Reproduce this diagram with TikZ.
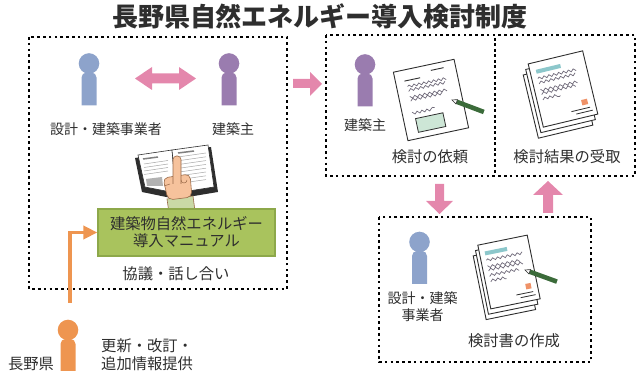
\documentclass[tikz,border=0pt]{standalone}
\usepackage{fontspec}
\newfontfamily\jp{Noto Sans CJK JP}
\usetikzlibrary{arrows.meta,decorations.pathmorphing}

\definecolor{bluep}{HTML}{8DA3CB}
\definecolor{purplep}{HTML}{9A7CAF}
\definecolor{orangep}{HTML}{EE9550}
\definecolor{pinkar}{HTML}{E487AC}
\definecolor{manualgreen}{HTML}{A9C35D}
\definecolor{manualedge}{HTML}{8DA84A}
\definecolor{ink}{HTML}{2E2E2E}
\definecolor{wave}{HTML}{6E6878}
\definecolor{formgreen}{HTML}{CDE6D6}
\definecolor{barteal}{HTML}{8CC7CB}
\definecolor{stamp}{HTML}{EF9268}
\definecolor{pen}{HTML}{3B6B3A}
\definecolor{skin}{HTML}{F6C29C}
\definecolor{skinedge}{HTML}{9A6A48}
\definecolor{sleeve}{HTML}{C9D9A6}

\tikzset{
	dotbox/.style = {draw = black, line width = 2.6pt, dash pattern = on 2.6pt off 3.2pt},
	divider/.style = {draw = black, line width = 1.3pt, dash pattern = on 3pt off 2.5pt},
	lbl/.style = {font = \jp\fontsize{15.3}{18}\selectfont, text = ink, inner sep = 0pt, align = center},
	plbl/.style = {lbl, font = \jp\fontsize{14}{17}\selectfont},
	manualbox/.style = {lbl, fill = manualgreen, draw = manualedge, line width = 1.2pt,
		minimum width = 177pt, minimum height = 47pt, font = \jp\fontsize{15.3}{17}\selectfont},
	wavy/.style = {draw = wave, line width = 0.7pt, decorate,
		decoration = {snake, segment length = 5pt, amplitude = 1.2pt}},
	% head and body of a person
	person/.pic = {
		\fill[#1] (-7.5,42) -- (-7.5,20) [rounded corners = 5pt] -- (-7.5,9) -- (7.5,9)
			-- (7.5,20) [sharp corners] -- (7.5,42) -- cycle;
		\fill[#1] (0,0) circle [radius = 10.3];
	},
	pencil/.pic = {
		\fill[pen] (5,-2.3) rectangle (34,2.3);
		\filldraw[fill = white, draw = ink, line width = 0.6pt] (0,0) -- (5,-2.3) -- (5,2.3) -- cycle;
	},
	reqsheet/.pic = {
		\filldraw[fill = white, draw = ink, line width = 0.9pt] (-31,-35) rectangle (31,35);
		\draw[ink, line width = 0.9pt] (-22,-24) -- (-6,-24) (6,-29) -- (19,-29);
		\draw[wavy] (-20,-18) -- (18,-18) (-20,-13) -- (18,-13) (-20,-8) -- (16,-8)
			(-20,-3) -- (14,-3) (-21,8) -- (2,8);
		\filldraw[fill = formgreen, draw = ink, line width = 0.8pt] (-19,15) rectangle (9,29);
	},
	ressheet/.pic = {
		\foreach \d in {2,1}
			\filldraw[fill = white, draw = ink, line width = 0.9pt, shift = {(-3.7*\d,4.8*\d)}]
				(-28,-32.5) rectangle (28,32.5);
		\filldraw[fill = white, draw = ink, line width = 0.9pt] (-28,-32.5) rectangle (28,32.5);
		\fill[barteal] (-22,-25) rectangle (3,-21);
		\draw[wavy] (-22,-16) -- (16,-16) (-22,-10.5) -- (16,-10.5) (-22,-5) -- (16,-5)
			(-22,0.5) -- (12,0.5) (-22,6) -- (-4,6);
		\fill[stamp] (15,15) rectangle (21,20.5);
		\draw[ink, line width = 0.8pt] (3,24) -- (22,24) (7,27.5) -- (24,27.5);
	}
}

\begin{document}
\begin{tikzpicture}[x = 1pt, y = -1pt]
	\useasboundingbox (0,0) rectangle (641,371);

	\node[font = \jp\bfseries\fontsize{26}{30}\selectfont, text = ink, inner sep = 0pt]
		(title) at (320,16) {長野県自然エネルギー導入検討制度};

	% frames
	\draw[dotbox] (29,37) rectangle (287,289);
	\draw[dotbox] (326,35) rectangle (635,176);
	\draw[dotbox] (379,217) rectangle (591,362);
	\draw[divider] (495,38) -- (495,173);

	% block arrows
	\fill[pinkar] (135,78.5) -- (152,67) -- (152,73.5) -- (179,73.5) -- (179,67) -- (196,78.5)
		-- (179,90) -- (179,83.5) -- (152,83.5) -- (152,90) -- cycle;
	\fill[pinkar] (293,79) -- (310,79) -- (310,72) -- (322,84) -- (310,96) -- (310,88)
		-- (293,88) -- cycle;
	\fill[pinkar] (435,184) -- (444,184) -- (444,201) -- (453,201) -- (439.5,214) -- (426,201)
		-- (435,201) -- cycle;
	\fill[pinkar] (543,213) -- (553,213) -- (553,195) -- (563,195) -- (548,181) -- (533,195)
		-- (543,195) -- cycle;

	% people
	\pic at (89,63.5) {person = bluep};
	\pic at (229,63.5) {person = purplep};
	\pic at (365,64.5) {person = purplep};
	\pic at (419.5,242) {person = bluep};
	\pic at (68,330) {person = orangep};

	% open book with hand
	\fill[ink] (135,158) -- (172,152) -- (211,147) -- (218,192) -- (176,199) -- (142,192) -- cycle;
	\filldraw[fill = white, draw = ink, line width = 0.6pt] (138,155) -- (172,150) -- (176,193) -- (145,187) -- cycle;
	\filldraw[fill = white, draw = ink, line width = 0.6pt] (172,150) -- (208,145) -- (214,187) -- (176,193) -- cycle;
	\draw[gray, line width = 1.5pt] (143,159) -- (158,157) (178,153) -- (194,151);
	\foreach \i in {0,...,3}
		\draw[gray!70, line width = 0.5pt] (144,{164+3.5*\i}) -- (168,{160.5+3.5*\i});
	\fill[gray!60] (146,179) -- (162,177) -- (163,186) -- (147,186) -- cycle;
	\foreach \i in {0,...,7}
		\draw[gray!70, line width = 0.5pt] (178,{157+3.8*\i}) -- (206,{153+3.8*\i});
	\filldraw[fill = sleeve, draw = skinedge, line width = 0.6pt] (167,199) -- (193,196) -- (195,211) -- (169,213) -- cycle;
	\filldraw[fill = skin, draw = skinedge, line width = 0.6pt, rounded corners = 5pt]
		(163,178) -- (190,174) -- (192,197) -- (168,200) -- cycle;
	\filldraw[fill = skin, draw = skinedge, line width = 0.6pt, rounded corners = 3.5pt]
		(173,184) -- (173,156) -- (181,156) -- (181,184);
	\draw[skinedge, line width = 0.5pt] (181,180) arc [start angle = 180, end angle = 0, radius = 3]
		(164,186) -- (170,184);

	% documents and pencils
	\pic[rotate = 12] at (431,100) {reqsheet};
	\pic[rotate = -20.6] at (452,100) {pencil};
	\pic[rotate = 13.5] at (563,89) {ressheet};
	\pic[rotate = 11.5, xscale = 0.9] at (509,272) {ressheet};
	\pic[rotate = -20] at (525,270) {pencil};

	% labels
	\node[plbl] (des1) at (106,129) {設計・建築事業者};
	\node[plbl] (own1) at (233,129) {建築主};
	\node[manualbox] (manual) at (186.5,232.5) {建築物自然エネルギー\\導入マニュアル};
	\node[lbl] (talk) at (176,274) {協議・話し合い};
	\node[plbl] (own2) at (365,125) {建築主};
	\node[lbl] (req) at (430,157) {検討の依頼};
	\node[lbl] (recv) at (567,157) {検討結果の受取};
	\node[plbl] (des3) at (422.5,306.5) {設計・建築\\事業者};
	\node[lbl] (make) at (514,341) {検討書の作成};
	\node[lbl] (pref) at (31,364) {長野県};
	\node[lbl, align = left, anchor = west] (upd) at (101,355) {更新・改訂・\\追加情報提供};

	% update path from the prefecture to the manual
	\coordinate (pref top) at (70,303);
	\draw[orangep, line width = 3.5pt, -{Triangle[length = 14pt, width = 13pt]}]
		(pref top) |- (manual.west);
\end{tikzpicture}
\end{document}
